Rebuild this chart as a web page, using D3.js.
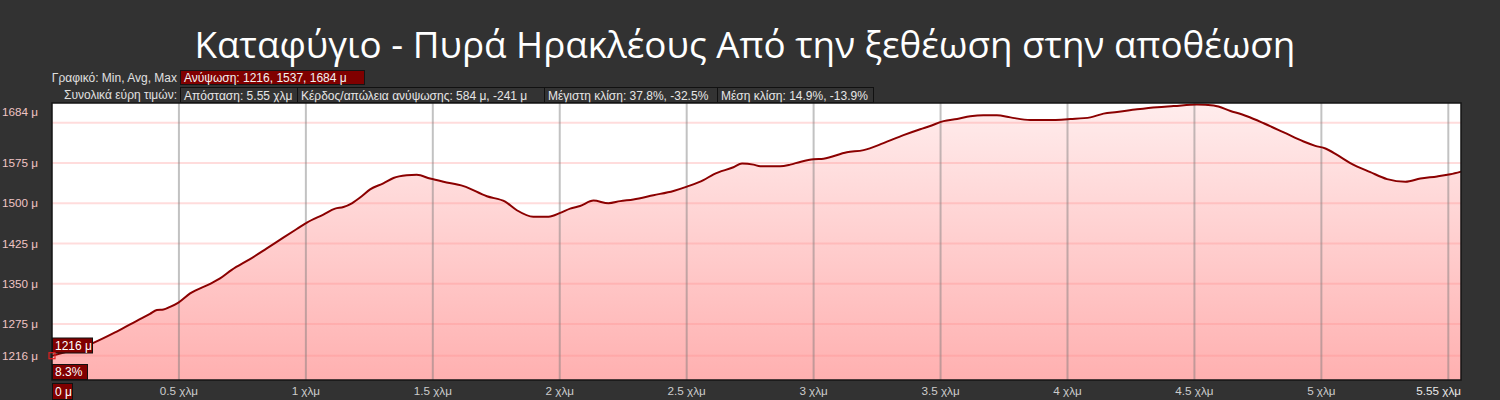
<!DOCTYPE html>
<html><head><meta charset="utf-8">
<script src="https://cdn.jsdelivr.net/npm/d3@7"></script>
<style>
html,body{margin:0;padding:0;background:#323232;}
svg{display:block;}
</style></head>
<body>
<svg id="c" width="1500" height="400"></svg>
<script>
const title = "Καταφύγιο - Πυρά Ηρακλέους Από την ξεθέωση στην αποθέωση";
const distanceKm = [0,0.163,0.255,0.334,0.386,0.413,0.439,0.465,0.498,0.544,0.623,0.662,0.708,0.780,0.846,0.911,0.964,1.004,1.069,1.115,1.148,1.181,1.220,1.253,1.305,1.345,1.397,1.437,1.489,1.542,1.621,1.713,1.785,1.831,1.896,1.956,2.002,2.041,2.080,2.133,2.192,2.238,2.290,2.369,2.448,2.501,2.566,2.606,2.684,2.718,2.763,2.790,2.868,2.908,2.947,3.000,3.039,3.131,3.197,3.275,3.354,3.420,3.459,3.512,3.565,3.617,3.669,3.722,3.775,3.853,3.919,4.011,4.090,4.142,4.195,4.274,4.353,4.418,4.510,4.576,4.642,4.707,4.773,4.852,4.930,4.976,5.016,5.062,5.114,5.193,5.259,5.331,5.390,5.456,5.508,5.55];
const elevationM = [1216,1240,1261,1281,1294,1301,1302,1307,1315,1332,1350,1360,1376,1396,1416,1436,1452,1464,1479,1490,1493,1500,1513,1526,1537,1547,1552,1553,1546,1540,1532,1513,1503,1487,1475,1475,1482,1490,1495,1505,1500,1504,1507,1515,1523,1531,1543,1554,1567,1574,1572,1569,1569,1572,1577,1582,1583,1595,1599,1612,1627,1638,1644,1653,1657,1662,1664,1664,1660,1655,1655,1657,1660,1667,1670,1675,1679,1681,1684,1682,1672,1662,1649,1632,1615,1607,1602,1590,1575,1558,1545,1540,1546,1550,1554,1559];
const yLabelValues = [1216,1275,1350,1425,1500,1575,1684];
const yGridValues = [1216,1275,1350,1425,1500,1575,1650];
const xGridValues = [0.5,1,1.5,2,2.5,3,3.5,4,4.5,5,5.5];
const xLabelValues = [0.5,1,1.5,2,2.5,3,3.5,4,4.5,5];
const xLabelTexts = ["0.5 χλμ","1 χλμ","1.5 χλμ","2 χλμ","2.5 χλμ","3 χλμ","3.5 χλμ","4 χλμ","4.5 χλμ","5 χλμ"];
const endLabel = "5.55 χλμ";
const startLabel = "0 μ";
const minLabel = "1216 μ";
const gradeLabel = "8.3%";
const row1Label = "Γραφικό: Min, Avg, Max";
const row1Boxes = ["Ανύψωση: 1216, 1537, 1684 μ"];
const row2Label = "Συνολικά εύρη τιμών:";
const row2Boxes = ["Απόσταση: 5.55 χλμ","Κέρδος/απώλεια ανύψωσης: 584 μ, -241 μ","Μέγιστη κλίση: 37.8%, -32.5%","Μέση κλίση: 14.9%, -13.9%"];
const row2Widths = [117,247,173,156];

const svg = d3.select("#c");
const L = 52, R = 1461, T = 103, B = 380;
const x = d3.scaleLinear().domain([0, 5.55]).range([L, R]);
const y = d3.scaleLinear().domain([1216, 1684]).range([355.7, 104.5]);
const font = "'Liberation Sans', Arial, sans-serif";

svg.append("rect").attr("width",1500).attr("height",400).attr("fill","#323232");

// title
svg.append("text").attr("x",745).attr("y",58).attr("text-anchor","middle")
  .attr("fill","#ffffff").attr("font-family","'Open Sans', 'Noto Sans', sans-serif")
  .attr("font-size",36.8).text(title);

// info rows
svg.append("text").attr("x",177).attr("y",81.5).attr("text-anchor","end")
  .attr("fill","#e0e0e0").attr("font-family",font).attr("font-size",12).text(row1Label);
svg.append("rect").attr("x",180.5).attr("y",70.5).attr("width",184).attr("height",14)
  .attr("fill","#800000").attr("stroke","#151515");
svg.append("text").attr("x",184).attr("y",82).attr("fill","#f2f2f2")
  .attr("font-family",font).attr("font-size",12).text(row1Boxes[0]);

svg.append("text").attr("x",177).attr("y",99).attr("text-anchor","end")
  .attr("fill","#e0e0e0").attr("font-family",font).attr("font-size",12).text(row2Label);
let bx = 180;
row2Boxes.forEach((t,i)=>{
  svg.append("rect").attr("x",bx+0.5).attr("y",87.5).attr("width",row2Widths[i]).attr("height",15)
    .attr("fill","#333333").attr("stroke","#111111");
  svg.append("text").attr("x",bx+4).attr("y",99.5).attr("fill","#e6e6e6")
    .attr("font-family",font).attr("font-size",12).text(t);
  bx += row2Widths[i];
});

// plot background
svg.append("rect").attr("x",L).attr("y",T).attr("width",R-L).attr("height",B-T).attr("fill","#ffffff");

const defs = svg.append("defs");
const grad = defs.append("linearGradient").attr("id","fillGrad")
  .attr("gradientUnits","userSpaceOnUse").attr("x1",0).attr("y1",T).attr("x2",0).attr("y2",B);
grad.append("stop").attr("offset","0%").attr("stop-color","#ffeded");
grad.append("stop").attr("offset","100%").attr("stop-color","#ffb0b0");

const data = distanceKm.map((d,i)=>({d, e: elevationM[i]}));
const area = d3.area().x(p=>x(p.d)).y0(B).y1(p=>y(p.e)).curve(d3.curveMonotoneX);
const line = d3.line().x(p=>x(p.d)).y(p=>y(p.e)).curve(d3.curveMonotoneX);

svg.append("path").datum(data).attr("d",area).attr("fill","url(#fillGrad)");

// grid
svg.selectAll(".hg").data(yGridValues).enter().append("line")
  .attr("x1",L).attr("x2",R).attr("y1",d=>y(d)).attr("y2",d=>y(d))
  .attr("stroke","rgba(255,140,140,0.3)").attr("stroke-width",2);
svg.selectAll(".vg").data(xGridValues).enter().append("line")
  .attr("x1",d=>x(d)).attr("x2",d=>x(d)).attr("y1",T).attr("y2",B)
  .attr("stroke","rgba(120,120,120,0.45)").attr("stroke-width",2);

svg.append("path").datum(data).attr("d",line).attr("fill","none")
  .attr("stroke","#8b0000").attr("stroke-width",2);

// frame
svg.append("rect").attr("x",L).attr("y",T).attr("width",R-L).attr("height",B-T)
  .attr("fill","none").attr("stroke","#151515").attr("stroke-width",1.5);

// y labels
svg.selectAll(".yl").data(yLabelValues).enter().append("text")
  .attr("x",2).attr("y",d=> d===1684 ? y(d)+8 : y(d)+1)
  .attr("dominant-baseline","middle")
  .attr("fill","#f0c4c4").attr("font-family",font).attr("font-size",11.7)
  .text(d=>d+" μ");

// x labels
svg.selectAll(".xl").data(xLabelValues).enter().append("text")
  .attr("x",d=>x(d)).attr("y",395).attr("text-anchor","middle")
  .attr("fill","#cccccc").attr("font-family",font).attr("font-size",11.7)
  .text((d,i)=>xLabelTexts[i]);
svg.append("text").attr("x",R).attr("y",395).attr("text-anchor","end")
  .attr("fill","#e8e8e8").attr("font-family",font).attr("font-size",11.7).text(endLabel);

// start markers
function tag(x0,y0,w,h,t){
  svg.append("rect").attr("x",x0+0.5).attr("y",y0+0.5).attr("width",w).attr("height",h)
    .attr("fill","#800000").attr("stroke","#111111");
  svg.append("text").attr("x",x0+3).attr("y",y0+h-3).attr("fill","#ffffff")
    .attr("font-family",font).attr("font-size",12).text(t);
}
tag(L, 383, 20, 16, startLabel);
tag(L, 337.5, 40, 15, minLabel);
tag(L, 364, 35, 15, gradeLabel);
svg.append("rect").attr("x",x(0)-3).attr("y",y(1216)-3).attr("width",6).attr("height",6)
  .attr("fill","none").attr("stroke","#e02020").attr("stroke-width",1.2);
</script>
</body></html>
